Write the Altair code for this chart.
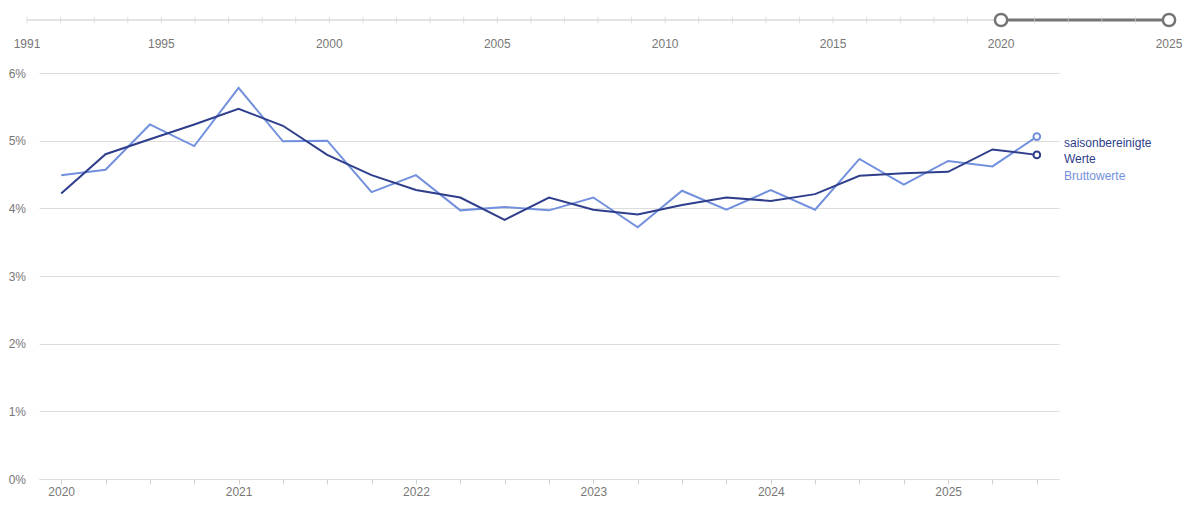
import altair as alt
import pandas as pd

# ---- data ----
quarters = [f"{y}-Q{q}" for y in range(2020, 2026) for q in range(1, 5)][:23]
saisonbereinigt = [4.22, 4.80, 5.02, 5.24, 5.47, 5.22, 4.79, 4.49, 4.27, 4.16, 3.83, 4.16,
                   3.98, 3.91, 4.05, 4.16, 4.11, 4.21, 4.48, 4.52, 4.54, 4.87, 4.79]
brutto = [4.49, 4.57, 5.24, 4.92, 5.78, 4.99, 5.00, 4.24, 4.49, 3.97, 4.02, 3.97,
          4.16, 3.72, 4.26, 3.98, 4.27, 3.98, 4.73, 4.35, 4.70, 4.62, 5.06]
series_names = ["saisonbereinigte Werte", "Bruttowerte"]
legend_lines = ["saisonbereinigte", "Werte", "Bruttowerte"]

slider_years = list(range(1991, 2026))
slider_label_years = [1991, 1995, 2000, 2005, 2010, 2015, 2020, 2025]
selected_range = [2020, 2025]

DARK = "#2f3e8c"
LIGHT = "#7290dd"
GRAY_TXT = "#777777"
FONT = "Liberation Sans"

# ---- tables ----
df = pd.DataFrame({
    "quarter": quarters * 2,
    "value": [v / 100 for v in saisonbereinigt] + [v / 100 for v in brutto],
    "series": [series_names[0]] * len(quarters) + [series_names[1]] * len(quarters),
})
last = df[df["quarter"] == quarters[-1]]

W, H = 1020, 406

xq = alt.X("quarter:O", sort=quarters,
           scale=alt.Scale(type="point", padding=0.5, domain=quarters),
           axis=alt.Axis(title=None, labelAngle=0, grid=False,
                         labelExpr="indexof(datum.value, 'Q1') >= 0 ? slice(datum.value, 0, 4) : ''",
                         domainColor="#dddddd", tickColor="#d0d0d0", tickSize=5,
                         labelColor=GRAY_TXT, labelFontSize=12, labelFont=FONT, labelPadding=2))
yv = alt.Y("value:Q",
           scale=alt.Scale(domain=[0, 0.06], nice=False),
           axis=alt.Axis(title=None, format=".0%", values=[0, 0.01, 0.02, 0.03, 0.04, 0.05, 0.06],
                         domain=False, ticks=False, gridColor="#dcdcdc",
                         labelColor=GRAY_TXT, labelFontSize=12, labelFont=FONT, labelPadding=13.5))
color = alt.Color("series:N", scale=alt.Scale(domain=series_names, range=[DARK, LIGHT]), legend=None)

lines_b = alt.Chart(df[df.series == series_names[1]]).mark_line(strokeWidth=2).encode(x=xq, y=yv, color=color)
lines_s = alt.Chart(df[df.series == series_names[0]]).mark_line(strokeWidth=2).encode(x=xq, y=yv, color=color)
end_pts = alt.Chart(last).mark_point(filled=True, fill="white", size=45, strokeWidth=2, opacity=1).encode(
    x=xq, y=yv, stroke=alt.Stroke("series:N", scale=alt.Scale(domain=series_names, range=[DARK, LIGHT]), legend=None))

leg_df = pd.DataFrame({"t": legend_lines})
leg_layers = []
for txt, col, yy in zip(legend_lines, [DARK, DARK, LIGHT], [70, 86, 103]):
    leg_layers.append(
        alt.Chart(leg_df[leg_df.t == txt]).mark_text(
            align="left", baseline="middle", fontSize=12, font=FONT, color=col
        ).encode(text="t:N", x=alt.value(1025), y=alt.value(yy))
    )

main = alt.layer(lines_b, lines_s, end_pts, *leg_layers).properties(width=W, height=H)

# ---- slider ----
sx = alt.X("year:Q", scale=alt.Scale(domain=[slider_years[0], slider_years[-1]], range=[-12, 1130], nice=False, zero=False),
           axis=None)
sy = alt.value(8)
track = alt.Chart(pd.DataFrame({"year": [slider_years[0]], "year2": [slider_years[-1]]})).mark_rule(
    color="#e4e4e4", strokeWidth=2).encode(x=sx, x2="year2:Q", y=sy)
sel = alt.Chart(pd.DataFrame({"year": [selected_range[0]], "year2": [selected_range[1]]})).mark_rule(
    color="#757575", strokeWidth=3).encode(x=sx, x2="year2:Q", y=sy)
ticks = alt.Chart(pd.DataFrame({"year": slider_years})).mark_tick(
    color="#d6d6d6", thickness=1, size=7, orient="vertical").encode(x=sx, y=sy)
handles = alt.Chart(pd.DataFrame({"year": selected_range})).mark_point(
    shape="circle", size=150, filled=True, fill="white", stroke="#757575", strokeWidth=2.5, opacity=1).encode(x=sx, y=sy)
labels = alt.Chart(pd.DataFrame({"year": slider_label_years})).mark_text(
    baseline="middle", dy=24, fontSize=12, font=FONT, color=GRAY_TXT).encode(x=sx, y=sy, text="year:N")

slider = alt.layer(track, sel, ticks, handles, labels).properties(width=W, height=12)

chart = alt.vconcat(slider, main, spacing=17).properties(
    padding={"top": 0, "left": 0, "right": 0, "bottom": 0}
).configure_view(stroke=None)

chart.save("out.html", embed_options={"renderer": "svg", "actions": False})
